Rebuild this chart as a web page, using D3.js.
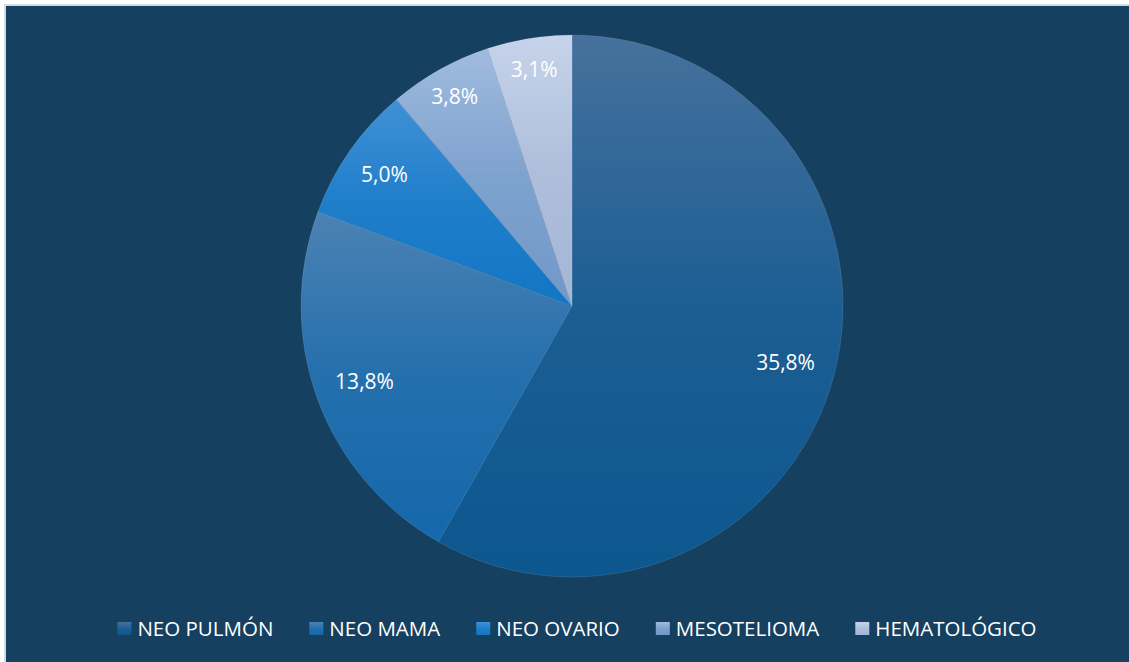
<!DOCTYPE html>
<html>
<head>
<meta charset="utf-8">
<script src="https://cdn.jsdelivr.net/npm/d3@7"></script>
<style>
  html, body { margin: 0; padding: 0; background: #ffffff; }
  svg { display: block; }
  text { font-family: "Open Sans", "Noto Sans", sans-serif; }
</style>
</head>
<body>
<svg id="chart" width="1129" height="662"></svg>
<script>
// Distribución por diagnóstico (porcentajes)
const categories = ["NEO PULMÓN", "NEO MAMA", "NEO OVARIO", "MESOTELIOMA", "HEMATOLÓGICO"];
const values = [35.8, 13.8, 5.0, 3.8, 3.1];
const valueLabels = ["35,8%", "13,8%", "5,0%", "3,8%", "3,1%"];

// Top / bottom gradient stops for each slice
const topColors    = ["#46719d", "#4c82b3", "#4191d6", "#a0bbde", "#c6d3ea"];
const bottomColors = ["#0c578f", "#1468ab", "#1276c5", "#7198c8", "#a5b6d5"];

const W = 1129, H = 662;
const svg = d3.select("#chart");

// frame
svg.append("rect").attr("x", 4).attr("y", 4).attr("width", W).attr("height", H).attr("fill", "#d5dbe2");
svg.append("rect").attr("x", 6).attr("y", 6).attr("width", W).attr("height", H).attr("fill", "#15405f");

const cx = 572, cy = 306, R = 271;

const pie = d3.pie().sort(null).value(d => d.value);
const data = categories.map((c, i) => ({ name: c, value: values[i], label: valueLabels[i], i }));
const arcs = pie(data);
const arc = d3.arc().innerRadius(0).outerRadius(R);

const defs = svg.append("defs");

// vertical gradient helper: lighter top easing into the base colour
function addGradient(id, i) {
  const g = defs.append("linearGradient")
    .attr("id", id)
    .attr("x1", 0).attr("y1", 0).attr("x2", 0).attr("y2", 1);
  g.append("stop").attr("offset", "0%").attr("stop-color", topColors[i]);
  g.append("stop").attr("offset", "50%").attr("stop-color", d3.interpolateRgb(topColors[i], bottomColors[i])(0.72));
  g.append("stop").attr("offset", "100%").attr("stop-color", bottomColors[i]);
}
arcs.forEach((a, i) => addGradient("grad" + i, i));
data.forEach((d, i) => addGradient("lgrad" + i, i));

const gPie = svg.append("g").attr("transform", `translate(${cx},${cy})`);

gPie.selectAll("path.slice")
  .data(arcs)
  .join("path")
  .attr("class", "slice")
  .attr("d", arc)
  .attr("fill", (d, i) => `url(#grad${i})`)
  .attr("stroke", "rgba(255,255,255,0.18)")
  .attr("stroke-width", 0.6)
  .attr("stroke-linejoin", "round");

// value labels placed inside each slice; narrow slices sit closer to the rim
gPie.selectAll("text.val")
  .data(arcs)
  .join("text")
  .attr("class", "val")
  .attr("transform", d => {
    const span = d.endAngle - d.startAngle;
    const f = span > 1 ? 0.815 : (span > 0.45 ? 0.845 : 0.885);
    const mid = (d.startAngle + d.endAngle) / 2;
    const r = R * f;
    return `translate(${Math.sin(mid) * r},${-Math.cos(mid) * r})`;
  })
  .attr("text-anchor", "middle")
  .attr("dy", "0.35em")
  .attr("fill", "#ffffff")
  .attr("font-size", 21)
  .text(d => d.data.label);

// legend
const legend = svg.append("g");
const legendY = 629;
const box = 14, textGap = 6, itemGap = 36, legendFont = 20.5;

const items = legend.selectAll("g.item")
  .data(data)
  .join("g")
  .attr("class", "item");

items.append("rect")
  .attr("width", box).attr("height", 13)
  .attr("y", -7)
  .attr("fill", (d, i) => `url(#lgrad${i})`);

items.append("text")
  .attr("x", box + textGap)
  .attr("dy", "0.36em")
  .attr("fill", "#ffffff")
  .attr("font-size", legendFont)
  .text(d => d.name);

const widths = [];
items.each(function () {
  const tw = d3.select(this).select("text").node().getComputedTextLength();
  widths.push(box + textGap + tw);
});
const total = d3.sum(widths) + itemGap * (widths.length - 1);
let start = 577 - total / 2;
items.attr("transform", (d, i) => {
  const t = `translate(${start},${legendY})`;
  start += widths[i] + itemGap;
  return t;
});
</script>
</body>
</html>
